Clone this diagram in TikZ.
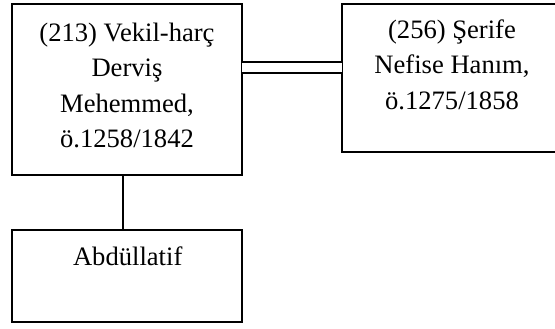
\documentclass[tikz,border=0pt]{standalone}
\usepackage{fontspec}
\setmainfont{Liberation Serif}
\tikzset{
  boxline/.style={draw=black, line width=1.8pt},
  personbox/.style={boxline, rectangle, inner sep=0pt, outer sep=0pt, anchor=north west},
  cutbox/.style={rectangle, inner sep=0pt, outer sep=0pt, anchor=north west},
  persontext/.style={anchor=base, inner sep=0pt, font=\fontsize{26.6}{35.3}\selectfont},
  link/.style={draw=black, line width=1.8pt}
}
\begin{document}
\begin{tikzpicture}[x=1pt,y=-1pt]
\useasboundingbox (0,0) rectangle (555,329);
\node[personbox, minimum width=230pt, minimum height=171pt] (b1) at (12,4) {};
\node[cutbox, minimum width=213pt, minimum height=148pt] (b2) at (342,4) {};
\draw[boxline, line cap=butt] (b2.north east) -- (b2.north west) -- (b2.south west) -- (b2.south east);
\node[personbox, minimum width=230pt, minimum height=92pt] (b3) at (12,230) {};
\node[persontext] (t1) at (127,41.7) {\setlength{\tabcolsep}{0pt}\begin{tabular}[t]{c}(213) Vekil-harç\\Derviş\\Mehemmed,\\ö.1258/1842\end{tabular}};
\node[persontext] (t2) at (452,38.5) {\setlength{\tabcolsep}{0pt}\begin{tabular}[t]{c}(256) Şerife\\Nefise Hanım,\\ö.1275/1858\end{tabular}};
\node[persontext] (t3) at (127.7,265) {Abdüllatif};
\coordinate (dy) at (0,67.7);
\coordinate (vx) at (122.7,0);
\draw[link, double=white, double distance=9.5pt] (b1.east |- dy) -- (b2.west |- dy);
\draw[link] (b1.south -| vx) -- (b3.north -| vx);
\end{tikzpicture}
\end{document}
